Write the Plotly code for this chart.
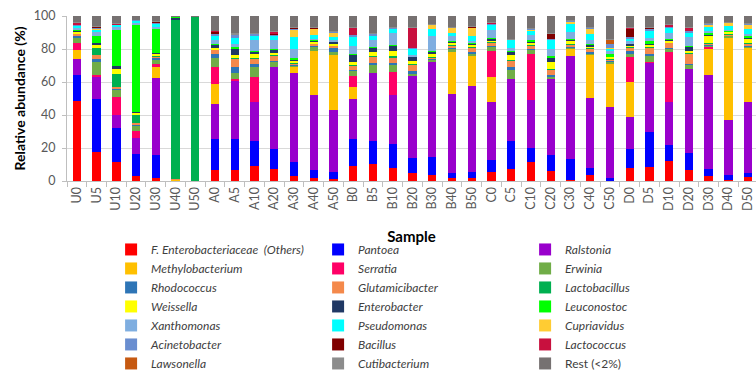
import plotly.graph_objects as go

samples = ["U0", "U5", "U10", "U20", "U30", "U40", "U50",
           "A0", "A5", "A10", "A20", "A30", "A40", "A50",
           "B0", "B5", "B10", "B20", "B30", "B40", "B50",
           "C0", "C5", "C10", "C20", "C30", "C40", "C50",
           "D0", "D5", "D10", "D20", "D30", "D40", "D50"]

enterobacteriaceae = [48.7, 17.4, 11.7, 3.0, 1.6, 0.4, 0, 6.7, 6.7, 9.3, 7.3, 3.0, 2.0, 1.0, 9.3, 10.1, 7.7, 5.1, 3.6, 1.6, 1.6, 5.3, 7.3, 11.3, 6.1, 0.8, 3.6, 0.3, 7.7, 8.7, 12.1, 6.7, 3.0, 0.6, 2.6]
pantoea = [15.9, 32.7, 20.6, 13.6, 14.2, 0, 0, 18.8, 18.6, 15.1, 12.1, 8.7, 4.7, 4.3, 16.6, 14.1, 14.5, 8.6, 10.7, 3.0, 3.7, 7.4, 16.9, 8.5, 9.1, 12.3, 4.1, 1.3, 11.7, 20.8, 10.1, 10.1, 4.3, 3.0, 2.5]
ralstonia = [10.1, 13.7, 8.1, 9.3, 46.0, 0, 0, 21.2, 35.9, 23.3, 48.9, 53.6, 45.8, 37.7, 24.2, 41.1, 29.3, 50.1, 58.0, 48.5, 52.3, 34.8, 36.6, 28.9, 45.6, 62.3, 42.4, 42.8, 19.2, 41.8, 26.5, 51.1, 56.5, 34.0, 42.6]
methylobacterium = [5.7, 0, 0, 0, 6.9, 0.6, 0, 11.9, 0, 0, 0, 3.4, 26.9, 33.8, 7.1, 0, 0, 0, 0, 25.3, 18.4, 15.7, 0, 0, 0, 4.4, 25.9, 25.9, 21.0, 0, 0, 0, 15.6, 50.5, 32.7]
serratia = [4.0, 0.8, 10.7, 4.8, 1.6, 0, 0, 10.1, 0.4, 15.5, 0, 0, 0, 0, 7.1, 0, 13.7, 0, 0, 0, 0, 15.6, 0, 28.1, 0, 0, 0, 0, 14.7, 0.5, 30.7, 0, 1.4, 0, 0]
erwinia = [3.6, 8.1, 5.1, 3.2, 3.0, 0.2, 0, 5.3, 4.0, 6.1, 3.6, 1.4, 2.6, 2.0, 3.0, 5.1, 4.4, 1.0, 1.2, 2.0, 1.2, 2.6, 5.9, 2.6, 1.2, 1.0, 1.0, 1.0, 2.0, 4.0, 2.0, 2.4, 1.0, 1.0, 1.0]
rhodococcus = [1.2, 1.8, 0.6, 0.6, 0.8, 0, 0, 2.4, 3.2, 1.4, 0.4, 0.6, 0.4, 2.6, 0.5, 1.0, 0.8, 2.0, 0.4, 0.4, 1.2, 0.4, 1.6, 0.3, 1.0, 0.5, 0.5, 0.5, 2.0, 0.5, 0.5, 0.5, 0.5, 0.3, 0.5]
glutamicibacter = [0.8, 2.6, 0.8, 0.6, 0.8, 0.2, 0, 2.4, 5.3, 3.6, 3.0, 0.6, 1.0, 1.0, 3.0, 4.0, 3.2, 4.0, 0.8, 2.0, 2.4, 2.0, 3.7, 2.0, 3.4, 1.0, 2.0, 1.0, 2.0, 4.0, 3.0, 6.1, 0.5, 0.5, 1.0]
lactobacillus = [0.5, 4.4, 7.7, 5.3, 1.0, 96.6, 99.6, 0, 0.4, 0.5, 0.3, 0.4, 0.3, 0.3, 0.3, 0.5, 0.8, 0.3, 0.4, 0.3, 0.3, 0.3, 0.3, 0.3, 0.3, 0.3, 0.3, 0.3, 0.3, 0.3, 0.3, 0.3, 0.3, 0.3, 0.3]
weissella = [1.2, 1.2, 3.4, 1.2, 1.0, 0, 0, 1.6, 2.0, 2.0, 1.4, 1.0, 1.0, 1.0, 1.6, 2.0, 3.0, 2.0, 1.6, 1.0, 1.4, 1.0, 3.0, 1.6, 4.0, 2.0, 1.4, 1.0, 1.0, 1.6, 1.0, 1.4, 4.6, 1.4, 3.0]
enterobacter = [0.5, 1.4, 1.6, 0.3, 0.3, 0.8, 0, 1.8, 4.0, 1.6, 2.0, 1.0, 0.8, 1.0, 4.4, 3.0, 3.4, 2.4, 1.4, 1.0, 1.0, 1.2, 2.0, 0.5, 3.0, 1.0, 1.0, 0.5, 1.0, 1.0, 0.5, 2.6, 0.5, 0.3, 0.3]
leuconostoc = [0.5, 4.6, 22.2, 53.5, 14.7, 0.8, 0.2, 0.4, 0.6, 0.3, 0.3, 0.4, 0.6, 0.4, 0.3, 0.3, 0.3, 0.3, 0.4, 0.3, 0.3, 0.3, 1.0, 1.0, 0.6, 0.3, 0.3, 1.0, 0.3, 1.0, 0.3, 0.3, 1.0, 0.4, 1.0]
xanthomonas = [1.0, 2.4, 2.0, 0.4, 0.6, 0, 0, 2.5, 2.0, 6.5, 5.3, 5.5, 0.5, 1.0, 5.0, 4.0, 7.0, 0.5, 9.0, 3.0, 1.0, 5.0, 1.0, 3.0, 4.4, 4.0, 2.5, 2.0, 1.0, 2.0, 4.0, 5.5, 1.0, 0.5, 1.0]
pseudomonas = [1.2, 1.6, 0.8, 1.8, 2.4, 0, 0, 2.5, 3.5, 2.6, 2.4, 7.5, 2.4, 1.4, 6.1, 3.0, 3.0, 4.0, 4.5, 2.0, 3.0, 3.0, 5.1, 3.0, 5.6, 5.0, 3.5, 1.5, 2.0, 4.5, 3.0, 3.0, 3.0, 2.4, 3.0]
cupriavidus = [0.3, 0.3, 0, 0, 0, 0, 0, 0, 0, 0, 0.3, 4.5, 3.6, 3.0, 0, 0, 0, 0, 2.4, 3.0, 5.0, 0, 0, 0.5, 0, 1.4, 3.5, 0.5, 0, 0, 0, 0, 1.0, 2.0, 3.0]
acinetobacter = [0.5, 0.4, 0.3, 0.3, 0.3, 0, 0, 1.6, 2.0, 1.4, 0.6, 0.4, 0.3, 0.6, 0.5, 1.0, 0.5, 0.3, 0.3, 0.3, 0.3, 0.5, 0.5, 0.3, 0.5, 0.5, 0.5, 2.0, 0.5, 1.0, 0.5, 0.5, 0.5, 0.3, 0.3]
bacillus = [0.3, 0.6, 0.3, 0, 0.6, 0, 0, 0.8, 0.4, 0, 0.3, 0.6, 0.5, 0, 0, 0, 0, 0, 0, 0, 0.6, 0, 0, 0, 3.2, 0, 0, 0, 5.0, 1.0, 0, 0, 0, 0, 0]
lactococcus = [0.8, 0.3, 0.3, 0, 0.3, 0, 0, 0.4, 0, 0, 1.4, 0, 0, 0, 5.1, 0, 0, 12.7, 0, 0, 0, 1.0, 0, 0, 0, 0, 0, 0, 1.0, 0, 1.4, 2.4, 0, 0, 0]
lawsonella = [0.2, 0.2, 0, 0, 0, 0, 0, 0, 0, 0, 0, 0, 0, 0, 0, 0, 0, 0, 0, 0, 0, 0, 0, 0, 0, 0, 0, 3.0, 0, 0, 0, 0, 0, 0, 0]
cutibacterium = [0.5, 0.3, 0.2, 0, 0.3, 0, 0, 0, 0.5, 0.3, 0.3, 0.3, 0.3, 0.3, 0.3, 0.3, 0.3, 0.3, 0.3, 0.3, 0.3, 0.3, 0.3, 0.3, 0.3, 0.3, 0.3, 0.5, 0.3, 0.3, 0.3, 0.3, 0.3, 0.3, 0.3]
rest = [3.4, 5.9, 4.4, 2.4, 3.0, 0.4, 0.2, 9.1, 10.5, 10.5, 9.1, 6.9, 6.7, 9.1, 6.5, 10.5, 6.5, 6.5, 4.6, 6.5, 5.9, 3.4, 13.5, 7.5, 9.9, 2.4, 6.5, 13.5, 6.5, 6.5, 5.1, 6.5, 4.4, 3.5, 4.4]

series_names = [
    "<i>F. Enterobacteriaceae&nbsp; (Others)</i>", "<i>Pantoea</i>", "<i>Ralstonia</i>",
    "<i>Methylobacterium</i>", "<i>Serratia</i>", "<i>Erwinia</i>",
    "<i>Rhodococcus</i>", "<i>Glutamicibacter</i>", "<i>Lactobacillus</i>",
    "<i>Weissella</i>", "<i>Enterobacter</i>", "<i>Leuconostoc</i>",
    "<i>Xanthomonas</i>", "<i>Pseudomonas</i>", "<i>Cupriavidus</i>",
    "<i>Acinetobacter</i>", "<i>Bacillus</i>", "<i>Lactococcus</i>",
    "<i>Lawsonella</i>", "<i>Cutibacterium</i>", "Rest (&lt;2%)",
]
series_values = [
    enterobacteriaceae, pantoea, ralstonia, methylobacterium, serratia, erwinia,
    rhodococcus, glutamicibacter, lactobacillus, weissella, enterobacter, leuconostoc,
    xanthomonas, pseudomonas, cupriavidus, acinetobacter, bacillus, lactococcus,
    lawsonella, cutibacterium, rest,
]
series_colors = [
    "#FF0000", "#0000FF", "#9900CC",
    "#FFC000", "#FF0066", "#70AD47",
    "#2E75B6", "#F4894B", "#00B050",
    "#FFFF00", "#203864", "#00FF00",
    "#7FAEE0", "#00FFFF", "#FFCC33",
    "#6A8ED0", "#800000", "#C8103E",
    "#C65911", "#8C8C8C", "#767171",
]

FONT = "Lato, 'Open Sans', sans-serif"

fig = go.Figure()
for name, vals, color in zip(series_names, series_values, series_colors):
    fig.add_trace(go.Bar(x=samples, y=vals, name=name,
                         marker=dict(color=color, line=dict(width=0))))

fig.update_layout(
    width=756, height=373,
    margin=dict(l=67, r=0, t=16, b=192, autoexpand=False),
    barmode="stack", barnorm="percent", bargap=0.58,
    plot_bgcolor="white", paper_bgcolor="white",
    font=dict(family=FONT, color="#595959"),
    showlegend=True,
    legend=dict(
        orientation="h", traceorder="normal",
        x=0.064, xanchor="left", y=-0.327, yanchor="top",
        entrywidth=162, entrywidthmode="pixels",
        font=dict(family=FONT, size=12, color="#404040"),
        bgcolor="rgba(0,0,0,0)",
    ),
    xaxis=dict(
        type="category", range=[-0.5, 34.4],
        tickangle=-90, ticks="outside", tickson="boundaries", ticklen=5,
        tickcolor="#BFBFBF", showline=True, linecolor="#BFBFBF",
        tickfont=dict(size=12.5, color="#595959"),
        showgrid=False,
        title=dict(text="<b>Sample</b>", font=dict(size=15, color="#000000"), standoff=21),
    ),
    yaxis=dict(
        range=[0, 100], dtick=20, showgrid=True, gridcolor="#D9D9D9",
        showline=True, linecolor="#BFBFBF", ticks="outside", ticklen=4,
        tickcolor="#BFBFBF", ticklabelstandoff=4,
        tickfont=dict(size=12.5, color="#595959"),
        title=dict(text="<b>Relative abundance (%)</b>", font=dict(size=14, color="#000000"), standoff=4),
        zeroline=False,
    ),
)

fig.write_html("out.html")
